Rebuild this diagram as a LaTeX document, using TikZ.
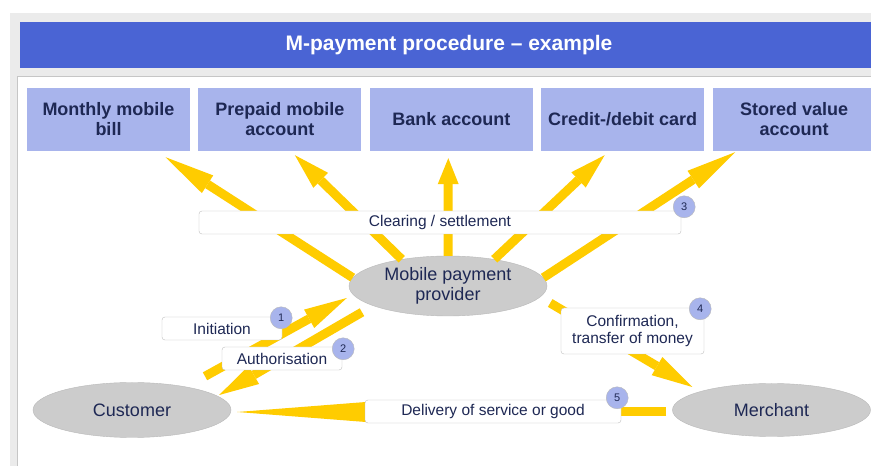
\documentclass[tikz,border=0pt]{standalone}
\usepackage{fontspec}
\setmainfont{Liberation Sans}
\usetikzlibrary{positioning, calc, arrows.meta, shapes.geometric}
\definecolor{titleblue}{RGB}{74, 100, 212}
\definecolor{boxblue}{RGB}{168, 180, 236}
\definecolor{flowyellow}{RGB}{255, 204, 0}
\definecolor{textnavy}{RGB}{30, 40, 84}
\definecolor{framegray}{RGB}{235, 235, 235}
\definecolor{ellgray}{RGB}{204, 204, 204}

\begin{document}
\begin{tikzpicture}[
                x=1pt, y=1pt,
                % Style for the account boxes
                accbox/.style={
                    rectangle, fill=boxblue,
                    text=textnavy, font=\fontsize{18}{20}\selectfont\bfseries,
                    minimum width=163pt, minimum height=63pt,
                    align=center, inner sep=0pt
                },
                % Style for the parties (grey ellipses)
                party/.style={
                    ellipse, fill=ellgray, draw=gray!55,
                    text=textnavy, font=\fontsize{18}{20}\selectfont,
                    minimum width=198pt, minimum height=55pt,
                    align=center, inner sep=0pt
                },
                % Style for the step labels
                steplabel/.style={
                    rectangle, rounded corners=3pt,
                    fill=white, draw=gray!50,
                    text=textnavy, font=\fontsize{15.5}{16.5}\selectfont,
                    minimum height=23pt, align=center, inner sep=0pt
                },
                % Style for the step numbers
                stepnum/.style={
                    circle, fill=boxblue, draw=gray!55,
                    text=textnavy, font=\fontsize{11}{11}\selectfont,
                    minimum size=22pt, inner sep=0pt
                },
                % Style for the yellow flow arrows (head length as argument)
                flow/.style={
                    -{Triangle[length=#1, width=21pt, line width=0pt]}, line width=9pt, color=flowyellow
                },
                flow/.default=36pt
            ]
                % 1. Background, frame and title bar
                \fill[white] (0,0) rectangle (871,466);
                \useasboundingbox (0,0) rectangle (871,466);
                \fill[framegray] (10,0) rectangle (871,453);
                \fill[titleblue] (20,398) rectangle (871,444);
                \fill[white] (17,0) rectangle (871,390);
                \draw[gray!45, line width=1pt] (17.5,0) -- (17.5,389.5) -- (871,389.5);
                \node[text=white, font=\fontsize{21}{23}\selectfont\bfseries] (title) at (449,421) {M-payment procedure – example};

                % 2. Account boxes
                \node[accbox] (bill) at (108.5,346.5) {Monthly mobile\\bill};
                \node[accbox, right=8pt of bill] (prepaid) {Prepaid mobile\\account};
                \node[accbox, right=8pt of prepaid] (bank) {Bank account};
                \node[accbox, right=8pt of bank] (card) {Credit-/debit card};
                \node[accbox, right=8pt of card] (stored) {Stored value\\account};

                % 3. Parties
                \node[party, minimum height=60pt] (prov) at (448,180) {Mobile payment\\provider};
                \node[party] (cust) at (132,56) {Customer};
                \node[party, minimum height=53pt] (merch) at (771.5,56) {Merchant};

                % 4. Flow arrows
                \draw[flow=50pt] (prov.175) -- ([shift={(57,-6)}]bill.south);
                \draw[flow] (prov.150) -- ([shift={(15,-4)}]prepaid.south);
                \draw[flow=26pt] (prov.north) -- ([shift={(-3,-7)}]bank.south);
                \draw[flow] (prov.30) -- ([shift={(-18,-4)}]card.south);
                \draw[flow=50pt] (prov.5) -- ([shift={(-59,-1)}]stored.south);

                \draw[flow=43pt] ([shift={(73,6)}]cust.north) -- ([shift={(-2,-12)}]prov.west);
                \draw[flow=40pt] ([shift={(-86,4)}]prov.south) -- ([shift={(-12,15)}]cust.east);
                \draw[flow=41pt] ([shift={(3,-17)}]prov.east) -- ([shift={(20,23)}]merch.west);
                \draw[flow=135pt] ([shift={(-6,-2)}]merch.west) -- ([shift={(6,-2)}]cust.east);

                % 5. Step labels
                \node[steplabel, minimum width=482pt] (clear) at (440,243.5) {Clearing / settlement};
                \node[steplabel, minimum width=120pt] (init) at (222,137.5) {Initiation};
                \node[steplabel, minimum width=120pt] (auth) at (282,107.5) {Authorisation};
                \node[steplabel, minimum width=143pt, minimum height=46pt] (conf) at (632.5,135) {Confirmation,\\transfer of money};
                \node[steplabel, minimum width=256pt] (deliv) at (493,54.5) {Delivery of service or good};

                % 6. Step numbers
                \node[stepnum] (n1) at ([shift={(-1,-1)}]init.north east) {1};
                \node[stepnum] (n2) at ([shift={(1,-2)}]auth.north east) {2};
                \node[stepnum] (n3) at ([shift={(3,4)}]clear.north east) {3};
                \node[stepnum] (n4) at ([shift={(-4,-1)}]conf.north east) {4};
                \node[stepnum] (n5) at ([shift={(-4,2)}]deliv.north east) {5};

            \end{tikzpicture}
\end{document}
